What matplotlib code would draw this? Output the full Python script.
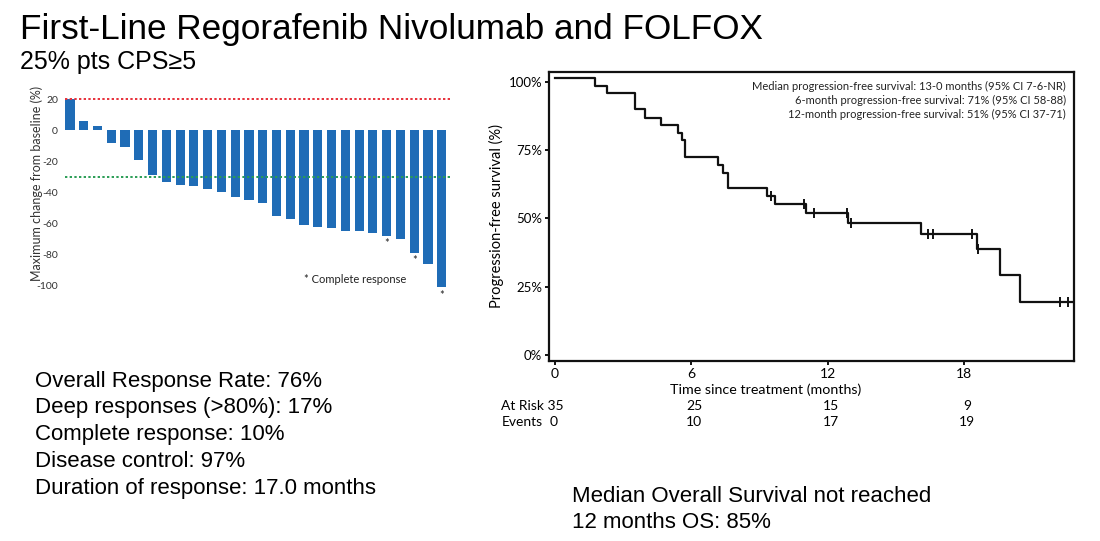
import matplotlib
matplotlib.use("Agg")
import matplotlib.pyplot as plt

W, H = 1100, 541

# ---------------- data ----------------
wf_values = [20, 6, 3, -8, -11, -19, -29, -33, -35, -36, -38, -40, -43, -45, -47,
             -55, -57, -61, -62, -63, -65, -65, -66, -68, -70, -79, -86, -101]
wf_complete = [23, 25, 27]          # bars marked with * (complete response)
wf_yticks = [20, 0, -20, -40, -60, -80, -100]

km_times = [0, 1.78, 2.29, 3.55, 3.95, 4.67, 5.43, 5.58, 5.75, 7.19, 7.38, 7.60,
            9.34, 9.69, 11.03, 12.89, 16.09, 18.56, 19.57, 20.44]
km_surv = [101.6, 98.5, 95.9, 90.0, 86.9, 84.2, 81.4, 78.6, 72.6, 69.6, 66.7, 61.1,
           58.2, 55.1, 51.8, 48.3, 44.3, 38.8, 29.1, 19.3]
km_end = 22.78
cens_times = [9.51, 10.98, 11.42, 12.85, 13.04, 16.41, 16.65, 18.33, 18.62, 22.23, 22.55]
cens_surv = [58.2, 55.1, 51.8, 51.8, 48.3, 44.3, 44.3, 44.3, 38.8, 19.3, 19.3]

risk_times = [0, 6, 12, 18]
at_risk = [35, 25, 15, 9]
events = [0, 10, 17, 19]

km_notes = ["Median progression-free survival: 13-0 months (95% CI 7-6-NR)",
            "6-month progression-free survival: 71% (95% CI 58-88)",
            "12-month progression-free survival: 51% (95% CI 37-71)"]

left_notes = ["Overall Response Rate: 76%",
              "Deep responses (>80%): 17%",
              "Complete response: 10%",
              "Disease control: 97%",
              "Duration of response: 17.0 months"]
os_notes = ["Median Overall Survival not reached", "12 months OS: 85%"]

# ---------------- helpers ----------------
def rect(l, t, r, b):
    return [l / W, 1 - b / H, (r - l) / W, (b - t) / H]

def fx(x):
    return x / W

def fy(y):
    return 1 - y / H

BODY = ["Liberation Sans", "DejaVu Sans"]
CHART = ["Lato", "DejaVu Sans"]

fig = plt.figure(figsize=(W / 100, H / 100), dpi=100)
fig.patch.set_facecolor("white")

# ---------------- titles ----------------
fig.text(fx(20), fy(39), "First-Line Regorafenib Nivolumab and FOLFOX",
         family=BODY, fontsize=25.3, va="baseline", ha="left")
fig.text(fx(20), fy(69), "25% pts CPS\u22655",
         family=BODY, fontsize=18, va="baseline", ha="left")

# ---------------- waterfall ----------------
axw = fig.add_axes(rect(65, 93, 450, 292))
xs = list(range(len(wf_values)))
axw.bar(xs, wf_values, width=0.66, color="#1f6cb6", zorder=2)
axw.axhline(20, color="#e8303a", ls=(0, (1.2, 1.2)), lw=1.4, zorder=3)
axw.axhline(-30, color="#2a9d55", ls=(0, (1.2, 1.2)), lw=1.4, zorder=3)
for i in wf_complete:
    axw.text(i, wf_values[i] - 1.5, "*", ha="center", va="top", fontsize=8,
             family=CHART, color="#222222")
axw.text(17.0, -96, "* Complete response", ha="left", va="center", fontsize=8,
         family=CHART, color="#222222")
axw.set_xlim(-0.36, 27.6)
axw.set_ylim(-104, 23.9)
axw.set_yticks(wf_yticks)
axw.set_yticklabels([str(v) for v in wf_yticks], family=CHART, fontsize=7.5,
                    color="#333333")
axw.set_xticks([])
axw.tick_params(axis="y", length=0, pad=5)
for s in axw.spines.values():
    s.set_visible(False)
axw.set_ylabel("Maximum change from baseline (%)", family=CHART, fontsize=9,
               color="#333333")
axw.yaxis.set_label_coords(-0.057, 0.545)

# ---------------- KM plot ----------------
axk = fig.add_axes(rect(549, 71.7, 1074, 360.7))
st = km_times + [km_end]
sv = km_surv + [km_surv[-1]]
axk.step(st, sv, where="post", color="#111111", lw=1.6, zorder=3)
axk.plot(cens_times, cens_surv, ls="none", marker="|", ms=7, mew=1.4,
         color="#111111", zorder=4)
axk.set_xlim(-0.25, 22.83)
axk.set_ylim(-2.2, 103.8)
axk.set_yticks([0, 25, 50, 75, 100])
axk.set_yticklabels(["0%", "25%", "50%", "75%", "100%"], family=CHART, fontsize=9.5)
axk.set_xticks(risk_times)
axk.set_xticklabels([str(t) for t in risk_times], family=CHART, fontsize=10)
axk.tick_params(length=3, width=1.3, pad=2, direction="out")
for s in axk.spines.values():
    s.set_linewidth(1.6)
    s.set_color("#111111")
axk.set_ylabel("Progression-free survival (%)", family=CHART, fontsize=10.5,
               labelpad=3)
for k, line in enumerate(km_notes):
    fig.text(fx(1066), fy(86.5 + 14 * k), line, ha="right", va="center",
             family=CHART, fontsize=8, color="#222222")

fig.text(fx(766), fy(390), "Time since treatment (months)", ha="center",
         va="center", family=CHART, fontsize=10.3)
fig.text(fx(501), fy(406), "At Risk %d" % at_risk[0], ha="left", va="center",
         family=CHART, fontsize=10)
fig.text(fx(502), fy(422.5), "Events", ha="left", va="center", family=CHART,
         fontsize=10)
to_px = lambda t: 554.7 + 22.75 * t
for k, t in enumerate(risk_times):
    if k > 0:
        fig.text(fx(to_px(t) + 3), fy(406), str(at_risk[k]), ha="center",
                 va="center", family=CHART, fontsize=10)
    fig.text(fx(to_px(t) + (-1 if k == 0 else 3)), fy(422.5), str(events[k]),
             ha="center", va="center", family=CHART, fontsize=10)

# ---------------- bottom notes ----------------
for k, line in enumerate(left_notes):
    fig.text(fx(35), fy(381 + 26.8 * k), line, ha="left", va="center",
             family=BODY, fontsize=16)
for k, line in enumerate(os_notes):
    fig.text(fx(572), fy(496 + 26 * k), line, ha="left", va="center",
             family=BODY, fontsize=16)

fig.savefig("out.png", dpi=100, facecolor="white")
